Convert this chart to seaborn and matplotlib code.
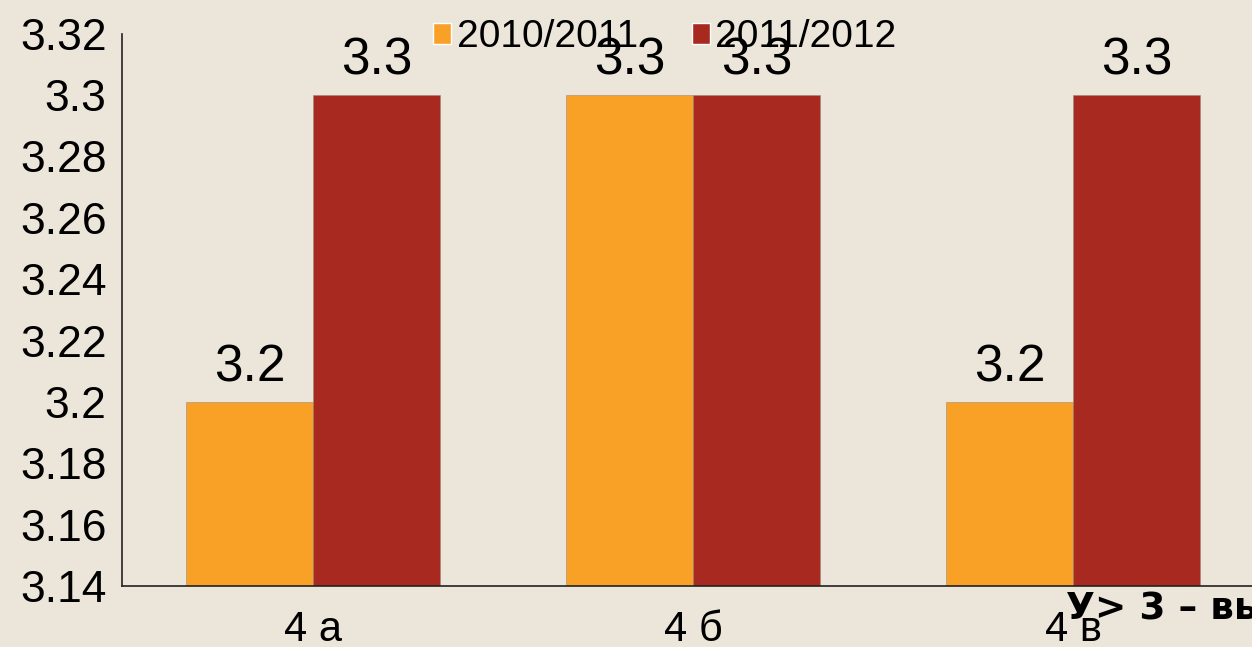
import pandas as pd
import seaborn as sns
import matplotlib.pyplot as plt
from matplotlib.ticker import FuncFormatter, MultipleLocator
from matplotlib.patches import Patch

classes = ["4 а", "4 б", "4 в"]
years = ["2010/2011", "2011/2012"]
score_2010 = [3.2, 3.3, 3.2]
score_2011 = [3.3, 3.3, 3.3]
colors = ["#F9A126", "#A8291F"]
bg = "#ECE6DA"

df = pd.DataFrame({
    "class": classes * 2,
    "year": [years[0]] * 3 + [years[1]] * 3,
    "score": score_2010 + score_2011,
})

sns.set_style("white")
plt.rcParams["font.family"] = ["Liberation Sans", "DejaVu Sans"]
plt.rcParams["text.color"] = "black"
plt.rcParams["xtick.color"] = "black"
plt.rcParams["ytick.color"] = "black"

fig = plt.figure(figsize=(12.52, 6.47), dpi=100, facecolor=bg)
ax = fig.add_axes([0.0974, 0.0943, 0.9114, 0.8537])
ax.set_facecolor(bg)

sns.barplot(data=df, x="class", y="score", hue="year", palette=colors, saturation=1,
            width=0.67, ax=ax, legend=False, edgecolor="#9a8a7a", linewidth=0.4)

for c in ax.containers:
    ax.bar_label(c, fmt="%g", padding=7, fontsize=37, color="black")

ax.set_ylim(3.14, 3.32)
ax.set_xlim(-0.503, 2.5)
ax.yaxis.set_major_locator(MultipleLocator(0.02))
ax.yaxis.set_major_formatter(FuncFormatter(lambda v, p: "{:g}".format(round(v, 2))))
ax.tick_params(axis="y", length=0, pad=11, labelsize=32, labelcolor="black")
ax.tick_params(axis="x", length=0, pad=17, labelsize=30, labelcolor="black")
ax.set_xlabel("")
ax.set_ylabel("")
for s in ["top", "right"]:
    ax.spines[s].set_visible(False)
for s in ["left", "bottom"]:
    ax.spines[s].set_color("#222222")
    ax.spines[s].set_linewidth(1.2)

handles = [Patch(facecolor=colors[i], label=years[i]) for i in range(2)]
leg = fig.legend(handles=handles, loc="center", bbox_to_anchor=(665 / 1252, 1 - 37 / 647),
                 ncol=2, frameon=False, fontsize=28, handlelength=0.45, handleheight=0.45,
                 handletextpad=0.15, columnspacing=1.4, borderaxespad=0)

fig.text(1066 / 1252, 1 - 610 / 647, "У> 3 – вы", fontsize=27, fontweight="bold",
         family="DejaVu Sans", va="center", ha="left", color="black")

fig.savefig("out.png", dpi=100, facecolor=bg)
